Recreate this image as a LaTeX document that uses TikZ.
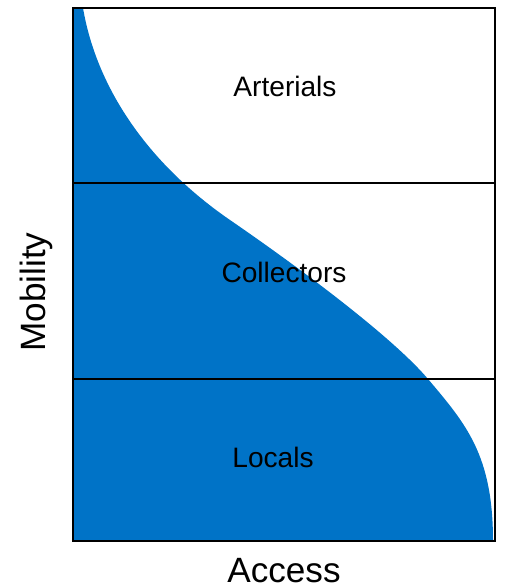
\documentclass[tikz,border=0pt]{standalone}
\usepackage{fontspec}
\setmainfont{Liberation Sans}

\definecolor{roadblue}{RGB}{0,115,199}

\tikzset{
	band label/.style={anchor=base, font=\fontsize{16}{19}\selectfont},
	axis label/.style={anchor=base, font=\fontsize{20}{24}\selectfont},
	divider/.style={line width=0.8pt}
}

\begin{document}
\begin{tikzpicture}[x=0.02cm, y=-0.02cm]
	\useasboundingbox (0,0) rectangle (504,587);
	
	\coordinate (top-left) at (73,8);
	\coordinate (top-right) at (495,8);
	\coordinate (bottom-left) at (73,541);
	\coordinate (bottom-right) at (495,541);
	
	% area under the curve
	\fill [roadblue] (83,8)
		.. controls (97,90) and (150,165) .. (230,220)
		.. controls (310,275) and (395,340) .. (428,379)
		.. controls (466,424) and (493,455) .. (493,541)
		-- (bottom-left) -- (top-left) -- cycle;
	
	\foreach \y [count=\i] in {183,379}
	\draw [divider] (73,\y) coordinate (div-\i-a) -- (495,\y) coordinate (div-\i-b);
	
	\draw [line width=1pt] (top-left) rectangle (bottom-right);
	
	\foreach \l/\x/\y in {Arterials/285/97, Collectors/284/282, Locals/273/467}
	\node [band label] (band-\l) at (\x,\y) {\l};
	
	\node [axis label] (access) at (284,582) {Access};
	\node [axis label, rotate=90] (mobility) at (45,292) {Mobility};
\end{tikzpicture}
\end{document}
